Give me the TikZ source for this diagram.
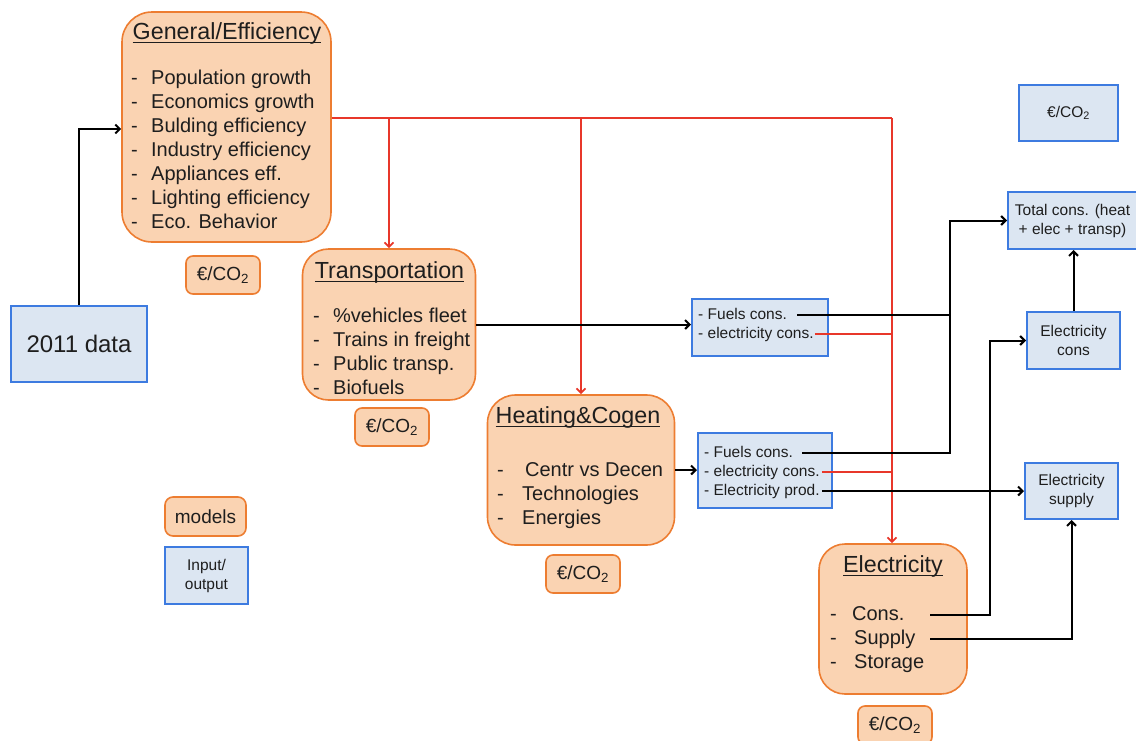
\documentclass[tikz,border=0pt]{standalone}
\usepackage{fontspec}
\setmainfont{Liberation Sans}
\usetikzlibrary{arrows.meta,calc}
\definecolor{ofill}{HTML}{FAD3B2}
\definecolor{oline}{HTML}{ED7D31}
\definecolor{bfill}{HTML}{DCE6F2}
\definecolor{bline}{HTML}{3D7BE0}
\definecolor{rline}{HTML}{E8372A}
\definecolor{tcol}{HTML}{1E1E1E}
\newcommand\myul[1]{\leavevmode\setbox0\hbox{#1}\rlap{\rule[-4pt]{\wd0}{1.2pt}}\box0}
\newcommand\eco{€/CO\textsubscript{2}}
\tikzset{
  obox/.style={draw=oline, fill=ofill, line width=1.6pt, inner sep=0},
  osmall/.style={obox, rounded corners=7pt, minimum width=74pt, minimum height=38pt, font=\fontsize{19}{22}\selectfont, text=tcol},
  bbox/.style={draw=bline, fill=bfill, line width=2pt, inner sep=0, text=tcol, align=center, font=\fontsize{15.5}{19}\selectfont},
  ttl/.style={inner sep=0, font=\fontsize{23.3}{27}\selectfont, text=tcol},
  item/.style={anchor=west, inner sep=0, font=\fontsize{20}{24}\selectfont, text height=14pt, text depth=4pt, text=tcol},
  sitem/.style={anchor=west, inner sep=0, font=\fontsize{15.5}{19}\selectfont, text height=11pt, text depth=3pt, text=tcol},
  arr/.style={draw=black, line width=2pt, -{Straight Barb[length=4.5pt,width=9pt]}},
  blk/.style={draw=black, line width=2pt},
  rarr/.style={draw=rline, line width=1.8pt, -{Straight Barb[length=4.5pt,width=9pt]}},
  rl/.style={draw=rline, line width=2pt}
}
\begin{document}
\begin{tikzpicture}[x=1pt,y=-1pt]
\useasboundingbox (0,0) rectangle (1136,740);

% General / Efficiency
\node[obox, rounded corners=30pt, minimum width=209pt, minimum height=230pt] (gen) at (226.5,127) {};
\node[ttl] (gent) at (227,33) {\myul{General/Efficiency}};
\foreach \t [count=\i] in {Population growth, Economics growth, Bulding efficiency, Industry efficiency, Appliances eff., Lighting efficiency, Eco. Behavior}
  \node[item] (gen\i) at (131,55+24*\i) {\makebox[20pt][l]{-}\t};
\node[osmall] (gco) at (223,275) {\eco};

% 2011 data
\node[bbox, minimum width=136pt, minimum height=76pt, font=\fontsize{24}{28}\selectfont] (data) at (79,344) {2011 data};

% Transportation
\node[obox, rounded corners=26pt, minimum width=173pt, minimum height=151pt] (tra) at (389,324.5) {};
\node[ttl] (trat) at (389.5,272) {\myul{Transportation}};
\foreach \t [count=\i] in {\%vehicles fleet, Trains in freight, Public transp., Biofuels}
  \node[item] (tra\i) at (313,293+24*\i) {\makebox[20pt][l]{-}\t};
\node[osmall] (tco) at (392,427) {\eco};

% Heating & Cogen
\node[obox, rounded corners=28pt, minimum width=187pt, minimum height=150pt] (heat) at (581,470) {};
\node[ttl] (heatt) at (578,417) {\myul{Heating\&Cogen}};
\node[item] (heat1) at (497,471) {\makebox[28pt][l]{-}Centr vs Decen};
\node[item] (heat2) at (497,495) {\makebox[25pt][l]{-}Technologies};
\node[item] (heat3) at (497,519) {\makebox[25pt][l]{-}Energies};
\node[osmall] (hco) at (583,574) {\eco};

% Electricity
\node[obox, rounded corners=26pt, minimum width=148pt, minimum height=150pt] (ele) at (893,619) {};
\node[ttl] (elet) at (893,566) {\myul{Electricity}};
\node[item] (ele1) at (830,615) {\makebox[22pt][l]{-}Cons.};
\node[item] (ele2) at (830,639) {\makebox[24pt][l]{-}Supply};
\node[item] (ele3) at (830,663) {\makebox[24pt][l]{-}Storage};
\node[osmall] (eco) at (895,725) {\eco};

% legend
\node[osmall, minimum width=81pt, minimum height=39pt, rounded corners=8pt] (models) at (205.5,516.5) {models};
\node[bbox, minimum width=83pt, minimum height=57pt] (inout) at (206.5,575.5) {Input/\\output};

% intermediate outputs
\node[bbox, minimum width=136pt, minimum height=57pt] (f1) at (760,327.5) {};
\node[sitem] (f1a) at (698,315) {- Fuels cons.};
\node[sitem] (f1b) at (698,334) {- electricity cons.};
\node[bbox, minimum width=134pt, minimum height=75pt] (f2) at (765,470.5) {};
\node[sitem] (f2a) at (704,453) {- Fuels cons.};
\node[sitem] (f2b) at (704,472) {- electricity cons.};
\node[sitem] (f2c) at (704,491) {- Electricity prod.};

% right column
\node[bbox, minimum width=99pt, minimum height=56pt] (beco) at (1068.5,113) {\eco};
\node[bbox, minimum width=129pt, minimum height=57pt] (tot) at (1072.5,220.5) {Total cons. (heat\\+ elec + transp)};
\node[bbox, minimum width=93pt, minimum height=57pt] (ecn) at (1073.5,340.5) {Electricity\\cons};
\node[bbox, minimum width=93pt, minimum height=56pt] (sup) at (1071.5,491) {Electricity\\supply};

% coordinates
\coordinate (rs) at (gen.east |- 0,118);
\coordinate (rj) at (892,118);
\coordinate (bus) at ([xshift=-57pt]tot.west);
\coordinate (b2) at ([xshift=-36pt]ecn.west);
\coordinate (es) at (930,0);

% red connectors
\draw[rl] (rs) -- (rj);
\draw[rarr] (rs -| tra.north) -- (tra.north);
\draw[rarr] (rs -| heat.north) -- (heat.north);
\draw[rarr] (rj) -- (rj |- ele.north);
\draw[rl] ([xshift=1pt]f1b.east) -- (f1b.east -| rj);
\draw[rl] ([xshift=2pt]f2b.east) -- (f2b.east -| rj);

% black connectors
\draw[arr] (data.north) |- ([yshift=-2pt]gen.west);
\draw[arr] (tra.east) -- (tra.east -| f1.west);
\draw[arr] (heat.east) -- (heat.east -| f2.west);
\draw[blk] ([xshift=10pt]f1a.east) -- (f1a.east -| bus);
\draw[arr] ([xshift=9pt]f2a.east) -| (bus) -- (tot.west);
\draw[arr] ([xshift=2pt]f2c.east) -- (f2c.east -| sup.west);
\draw[arr] (ele1.east -| es) -| (b2) -- (ecn.west);
\draw[arr] (ele2.east -| es) -| (sup.south);
\draw[arr] (ecn.north) -- (ecn.north |- tot.south);
\end{tikzpicture}
\end{document}
